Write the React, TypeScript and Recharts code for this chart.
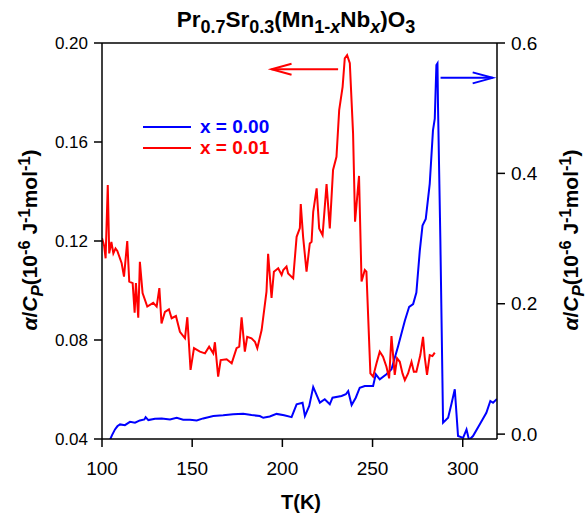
import React from 'react';
import {
  LineChart,
  Line,
  XAxis,
  YAxis,
  ReferenceLine,
  Legend,
} from 'recharts';

// x = 0.01 sample (left axis)
const tRed = [
  100, 101.2, 102, 103.2, 104, 105.2, 106.3, 107.5, 108.5, 110.9, 112.2, 114, 115.1, 117, 118.1,
  118.8, 120.1, 121, 122.5, 125.1, 128.4, 130.3, 131.8, 133, 134.9, 137.1, 138.6, 141, 143.2, 146,
  147.3, 149.1, 151, 154.3, 157.1, 159.4, 161.7, 162.6, 164.4, 165.8, 169.1, 171.9, 174.6, 176.1,
  177.4, 179.2, 180.5, 182.9, 184.8, 186.1, 188.5, 191.2, 192.1, 194, 195.3, 197.7, 199.6, 200.5,
  202.3, 203.2, 206, 207.9, 209.7, 210.2, 211.5, 213.4, 215.2, 216.2, 217.1, 219, 220.4, 222.3,
  224.5, 226.3, 228.1, 230, 231.5, 233.4, 234.6, 235.9, 237.4, 239.2, 240.3, 242.5, 243.9, 245.7,
  246.6, 248.8, 250.3, 252.2, 254, 255.8, 257.7, 259.2, 260.5, 262.3, 263.6, 265.1, 266.6, 267.9,
  269.7, 271.6, 272.9, 274.3, 276.5, 278, 278.9, 280.2, 281.7, 283.2, 284.5,
];
const aRed = [
  0.1212, 0.118, 0.113, 0.1426, 0.115, 0.1196, 0.115, 0.117, 0.116, 0.111, 0.1056, 0.12, 0.1036,
  0.103, 0.091, 0.103, 0.089, 0.1116, 0.099, 0.0935, 0.095, 0.0935, 0.101, 0.0867, 0.0914, 0.0924,
  0.0888, 0.0897, 0.0833, 0.0807, 0.0892, 0.0679, 0.0767, 0.0753, 0.0746, 0.0773, 0.0746, 0.0791,
  0.0652, 0.0719, 0.0722, 0.0706, 0.0767, 0.0773, 0.0892, 0.0753, 0.0813, 0.0807, 0.0793, 0.0767,
  0.084, 0.0995, 0.1148, 0.097, 0.1076, 0.109, 0.1063, 0.1083, 0.1097, 0.1069, 0.1049, 0.1217,
  0.1252, 0.1349, 0.1217, 0.1076, 0.119, 0.1197, 0.1318, 0.1413, 0.1251, 0.1224, 0.143, 0.1251,
  0.1487, 0.154, 0.1729, 0.1823, 0.1938, 0.1951, 0.1918, 0.1635, 0.1278, 0.1463, 0.1036, 0.1083,
  0.1076, 0.0665, 0.0652, 0.0706, 0.0753, 0.0733, 0.0692, 0.0645, 0.0816, 0.0659, 0.0726, 0.0712,
  0.0665, 0.0638, 0.0665, 0.0712, 0.0672, 0.0672, 0.0739, 0.0813, 0.0733, 0.0659, 0.0739, 0.0735,
  0.0749,
];

// x = 0.00 sample (right axis)
const tBlue = [
  104.4, 105.5, 107.2, 108.5, 110, 112.7, 115.5, 118.3, 121, 123.5, 124.2, 125.7, 129.4, 133.1,
  137.7, 141.4, 145, 148.8, 152.5, 156.1, 161.7, 167.2, 172.7, 178.3, 182.9, 187.5, 189.4, 193,
  196.8, 201, 205.1, 207.9, 211.2, 212.5, 214.9, 217.1, 220.8, 223.5, 226.3, 227.8, 232.8, 235.2,
  236.5, 238.4, 240.7, 242.9, 245.7, 250.3, 251.8, 254, 257.7, 260.5, 264.2, 267.9, 270.3, 272.5,
  274.3, 276.2, 277.7, 279.5, 281.7, 283.5, 284.5, 285.4, 286, 286.3, 287.6, 289.1, 291.9, 293.7,
  295.6, 297.4, 300.2, 302.1, 303.5, 305.7, 309.4, 313.1, 315.3, 316.8, 319,
];
const aBlue = [
  -0.009, -0.002, 0.0072, 0.012, 0.0149, 0.0138, 0.0189, 0.0174, 0.021, 0.0225, 0.026, 0.0215,
  0.0235, 0.0241, 0.0226, 0.025, 0.022, 0.022, 0.021, 0.0241, 0.0277, 0.0288, 0.0303, 0.0312,
  0.0292, 0.0277, 0.025, 0.027, 0.031, 0.029, 0.026, 0.0457, 0.0482, 0.0277, 0.0431, 0.0723,
  0.0482, 0.0534, 0.0457, 0.0558, 0.0585, 0.0611, 0.0661, 0.0446, 0.0558, 0.0712, 0.0738, 0.0738,
  0.0918, 0.0841, 0.0918, 0.0995, 0.1353, 0.1738, 0.1953, 0.1995, 0.2173, 0.2815, 0.32, 0.3302,
  0.384, 0.466, 0.484, 0.566, 0.5686, 0.502, 0.297, 0.0174, 0.025, 0.0457, 0.0687, -0.003,
  -0.0057, 0.0072, -0.009, -0.003, 0.0149, 0.0328, 0.0508, 0.048, 0.054,
];

const xTicks = [100, 150, 200, 250, 300];
const leftTicks = [0.04, 0.08, 0.12, 0.16, 0.2];
const rightTicks = [0, 0.2, 0.4, 0.6];

// arrow annotations: [T start, T end, value]
const redArrow = [230.9, 194, 0.1894];
const blueArrow = [287.7, 316.6, 0.5465];

const redData = tRed.map((t, i) => ({ T: t, v: aRed[i] }));
const blueData = tBlue.map((t, i) => ({ T: t, v: aBlue[i] }));

const font = '"Liberation Sans", Arial, Helvetica, sans-serif';
const axisStroke = { stroke: '#000', strokeWidth: 1.5 };

function arrowShape(color: string) {
  return (props: any) => {
    const { x1, y1, x2, y2 } = props;
    const dx = x2 - x1;
    const dy = y2 - y1;
    const len = Math.sqrt(dx * dx + dy * dy) || 1;
    const ux = dx / len;
    const uy = dy / len;
    const hl = 20;
    const hw = 5.5;
    const bx = x2 - ux * hl;
    const by = y2 - uy * hl;
    return (
      <g>
        <line x1={x1} y1={y1} x2={x2} y2={y2} stroke={color} strokeWidth={2} />
        <polyline
          points={`${bx - uy * hw},${by + ux * hw} ${x2},${y2} ${bx + uy * hw},${by - ux * hw}`}
          fill="none"
          stroke={color}
          strokeWidth={2}
        />
      </g>
    );
  };
}

function LegendBox({ payload }: any) {
  return (
    <div style={{ fontFamily: font }}>
      {(payload || []).map((p: any) => (
        <div
          key={p.value}
          style={{ display: 'flex', alignItems: 'center', height: 21 }}
        >
          <svg width={48} height={4} style={{ marginRight: 9 }}>
            <line x1={0} y1={2} x2={48} y2={2} stroke={p.color} strokeWidth={2} />
          </svg>
          <span style={{ color: p.color, fontWeight: 'bold', fontSize: 19 }}>{p.value}</span>
        </div>
      ))}
    </div>
  );
}

const sub = { fontSize: '0.8em', position: 'relative' as const, top: '0.33em' };
const sup = { fontSize: '0.78em', position: 'relative' as const, top: '-0.45em' };

function YLabel({ x }: { x: number }) {
  return (
    <div
      style={{
        position: 'absolute',
        left: x - 150,
        top: 240 - 12,
        width: 300,
        height: 24,
        lineHeight: '24px',
        textAlign: 'center',
        transform: 'rotate(-90deg)',
        fontFamily: font,
        fontWeight: 'bold',
        fontSize: 21,
        whiteSpace: 'nowrap',
      }}
    >
      <i>α</i>/<i>C</i>
      <span style={sub}>
        <i>P</i>
      </span>
      (10<span style={sup}>-6</span> J<span style={sup}>-1</span>mol<span style={sup}>-1</span>)
    </div>
  );
}

export default function App() {
  return (
    <div
      style={{
        position: 'absolute',
        left: 0,
        top: 0,
        width: 587,
        height: 517,
        background: '#fff',
        fontFamily: font,
      }}
    >
      <div
        style={{
          position: 'absolute',
          left: 0,
          top: 7,
          width: 592,
          textAlign: 'center',
          fontWeight: 'bold',
          fontSize: 22.5,
          whiteSpace: 'nowrap',
        }}
      >
        Pr<span style={sub}>0.7</span>Sr<span style={sub}>0.3</span>(Mn
        <span style={sub}>
          1-<i>x</i>
        </span>
        Nb
        <span style={sub}>
          <i>x</i>
        </span>
        )O<span style={sub}>3</span>
      </div>

      <LineChart
        width={587}
        height={517}
        margin={{ top: 43, right: 0, bottom: 48, left: 0 }}
      >
        <XAxis
          type="number"
          dataKey="T"
          domain={[100, 319]}
          ticks={xTicks}
          allowDataOverflow
          height={30}
          tickSize={8}
          tickMargin={15}
          tick={{ fill: '#000', fontSize: 19, fontFamily: font }}
          axisLine={axisStroke}
          tickLine={axisStroke}
        />
        <YAxis
          yAxisId="left"
          type="number"
          domain={[0.04, 0.2]}
          ticks={leftTicks}
          allowDataOverflow
          width={102}
          tickSize={8}
          tickMargin={6}
          tick={{ fill: '#000', fontSize: 17, fontFamily: font }}
          tickFormatter={(v: number) => v.toFixed(2)}
          axisLine={axisStroke}
          tickLine={axisStroke}
        />
        <YAxis
          yAxisId="right"
          orientation="right"
          type="number"
          domain={[-0.0075, 0.6]}
          ticks={rightTicks}
          allowDataOverflow
          width={90}
          tickSize={8}
          tickMargin={6}
          tick={{ fill: '#000', fontSize: 19, fontFamily: font }}
          tickFormatter={(v: number) => v.toFixed(1)}
          axisLine={axisStroke}
          tickLine={axisStroke}
        />
        <ReferenceLine yAxisId="left" y={0.2} stroke="#000" strokeWidth={1.5} ifOverflow="visible" />
        <Line
          yAxisId="right"
          data={blueData}
          dataKey="v"
          name="x = 0.00"
          type="linear"
          stroke="#0000ff"
          strokeWidth={2}
          dot={false}
          isAnimationActive={false}
        />
        <Line
          yAxisId="left"
          data={redData}
          dataKey="v"
          name="x = 0.01"
          type="linear"
          stroke="#ff0000"
          strokeWidth={2}
          dot={false}
          isAnimationActive={false}
        />
        <ReferenceLine
          yAxisId="left"
          segment={[
            { x: redArrow[0], y: redArrow[2] },
            { x: redArrow[1], y: redArrow[2] },
          ]}
          shape={arrowShape('#ff0000')}
          ifOverflow="visible"
        />
        <ReferenceLine
          yAxisId="right"
          segment={[
            { x: blueArrow[0], y: blueArrow[2] },
            { x: blueArrow[1], y: blueArrow[2] },
          ]}
          shape={arrowShape('#0000ff')}
          ifOverflow="visible"
        />
        <Legend
          layout="horizontal"
          verticalAlign="middle"
          align="center"
          content={<LegendBox />}
          wrapperStyle={{ left: 143, top: 116, width: 150, height: 44 }}
        />
      </LineChart>

      <YLabel x={30} />
      <YLabel x={571} />
      <div
        style={{
          position: 'absolute',
          left: 251,
          top: 491,
          width: 100,
          textAlign: 'center',
          fontWeight: 'bold',
          fontSize: 20,
        }}
      >
        T(K)
      </div>
    </div>
  );
}
